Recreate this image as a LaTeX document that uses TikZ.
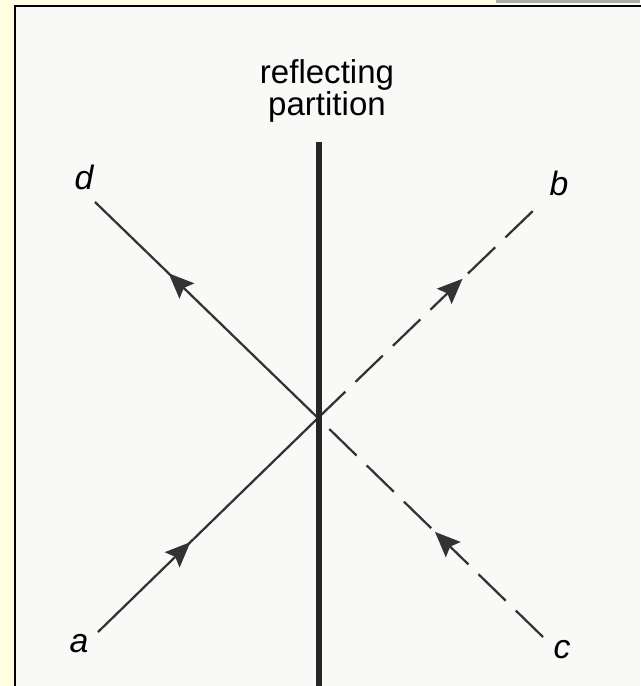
\documentclass[tikz,border=0pt]{standalone}
\usepackage{fontspec}
\setmainfont{Liberation Sans}
\usetikzlibrary{arrows.meta,decorations.markings}
\definecolor{pagebg}{RGB}{255,255,224}
\definecolor{sheet}{RGB}{249,249,247}
\definecolor{barfill}{RGB}{172,172,172}
\begin{document}
\begin{tikzpicture}[
  x=0.025cm, y=-0.025cm,
  partition/.style={line width=3.6pt,black!85},
  ray/.style={line width=1.6pt,black!80},
  dashray/.style={ray,dash pattern=on 27pt off 10pt},
  midarrow/.style={postaction={decorate,decoration={markings,
      mark=at position #1 with {\arrow{Stealth[length=18pt,width=15pt,inset=3pt]}}}}},
  lbl/.style={font=\fontsize{24}{28}\selectfont\itshape,inner sep=0pt},
  caption/.style={font=\fontsize{23.5}{21.5}\selectfont,align=center,inner sep=0pt},
]
  \useasboundingbox (0,0) rectangle (640,686);
  \fill[pagebg] (0,0) rectangle (640,686);
  \fill[barfill] (496,0) rectangle (640,2.5);
  \fill[sheet] (15,6) rectangle (640,686);
  \draw[line width=1.5pt] (15,690) -- (15,6) -- (645,6);

  % partition
  \coordinate (top) at (319,142);
  \coordinate (bot) at (319,690);
  \coordinate (X) at (318,418);
  \node[caption] (cap) at (327,91) {reflecting\\partition};

  % ray ends
  \coordinate (ea) at (98,632);
  \coordinate (ed) at (95,202);
  \coordinate (eb) at (537,207);
  \coordinate (ec) at (543,637);
  \node[lbl] (la) at (79,644) {a};
  \node[lbl] (ld) at (84,177) {d};
  \node[lbl] (lb) at (559,183) {b};
  \node[lbl] (lc) at (562,650) {c};

  \draw[ray,midarrow=0.42] (ea) -- (X);
  \draw[ray,midarrow=0.67] (X) -- (ed);
  \draw[dashray,midarrow=0.48] (ec) -- (X);
  \draw[dashray,midarrow=0.66] (X) -- (eb);
  \draw[partition] (top) -- (bot);
\end{tikzpicture}
\end{document}
